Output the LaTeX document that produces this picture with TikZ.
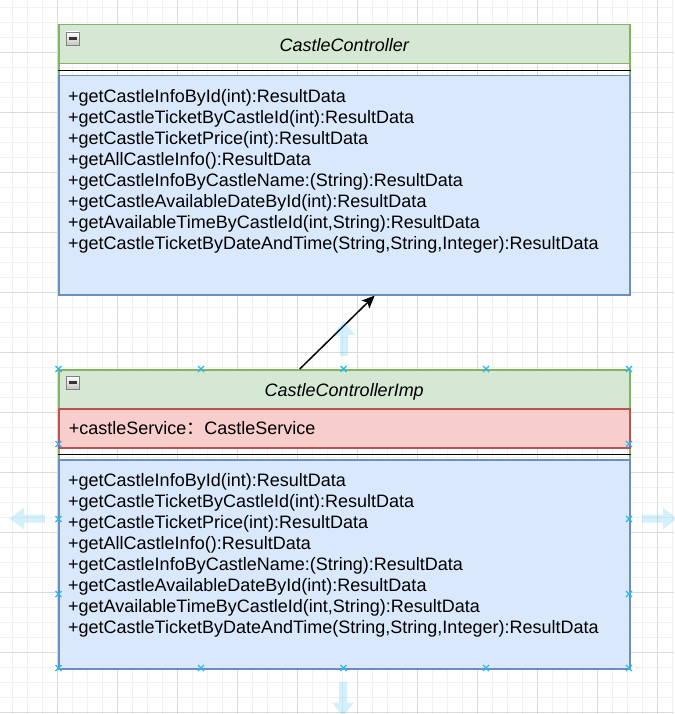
\documentclass[tikz,border=0pt]{standalone}
\usepackage{fontspec}
\setmainfont{Liberation Sans}
\newfontfamily\cjk{Noto Sans CJK SC}
\usetikzlibrary{positioning,arrows.meta}
\definecolor{hdrfill}{HTML}{D5E8D4}
\definecolor{hdrline}{HTML}{82B366}
\definecolor{opsfill}{HTML}{DAE8FC}
\definecolor{opsline}{HTML}{6C8EBF}
\definecolor{attrfill}{HTML}{F8CECC}
\definecolor{attrline}{HTML}{B85450}
\definecolor{selblue}{HTML}{29B6F2}
\definecolor{gridminor}{HTML}{F1F1F1}
\definecolor{gridmajor}{HTML}{DADADA}

\begin{document}
\begin{tikzpicture}[x=1pt,y=-1pt,
    font=\fontsize{18}{21}\selectfont,
    classbox/.style={draw=hdrline, line width=1.5pt, minimum width=571pt, inner sep=0pt, anchor=north west},
    header/.style={classbox, fill=hdrfill, minimum height=39pt, text height=15pt, text depth=0pt, font=\fontsize{18}{21}\selectfont\itshape},
    attrrow/.style={classbox, draw=attrline, fill=attrfill, minimum height=39pt, text width=551pt, inner xsep=10pt, align=left, text height=13pt, text depth=0pt},
    opsbox/.style={classbox, draw=opsline, fill=opsfill},
    opstext/.style={inner sep=0pt, align=left},
    sepline/.style={black, line width=1.5pt},
    toggle/.style={draw=gray, line width=0.8pt, minimum size=13pt, inner sep=0pt, top color=white, bottom color=gray!45},
    connector/.style={-{Stealth[length=13pt,width=11pt,inset=3pt]}, line width=1.5pt},
    selmark/.style={draw=selblue, line width=1.2pt},
    hint/.style={fill=selblue, fill opacity=0.2},
    minorgrid/.style={draw=gridminor, line width=1pt},
    majorgrid/.style={draw=gridmajor, line width=1pt}]
    \useasboundingbox (0,0) rectangle (674,714);
    \fill[white] (0,0) rectangle (674,714);
    \foreach \gx in {12,27,...,672} \draw[minorgrid] (\gx,0) -- (\gx,714);
    \foreach \gy in {7.7,22.7,...,712.7} \draw[minorgrid] (0,\gy) -- (674,\gy);
    \foreach \gx in {57,117,...,657} \draw[majorgrid] (\gx,0) -- (\gx,714);
    \foreach \gy in {52.7,112.7,...,712.7} \draw[majorgrid] (0,\gy) -- (674,\gy);

    \node (ctrlclass) [classbox, minimum height=270pt] at (58,24) {};
    \node (ctrlhead) [header] at (58,24) {CastleController};
    \node (ctrltoggle) [toggle] at (72.5,38.5) {};
    \draw[line width=2.5pt, black!80] ([xshift=-4pt]ctrltoggle.center) -- ([xshift=4pt]ctrltoggle.center);
    \draw[sepline] ([yshift=-6pt]ctrlhead.south west) -- ([yshift=-6pt]ctrlhead.south east);
    \node (ctrlbody) [opsbox, minimum height=219pt] at (58,75) {};
    \node (ctrlops) [opstext, below right=14pt and 10pt of ctrlbody.north west] {+getCastleInfoById(int):ResultData\\
        +getCastleTicketByCastleId(int):ResultData\\
        +getCastleTicketPrice(int):ResultData\\
        +getAllCastleInfo():ResultData\\
        +getCastleInfoByCastleName:(String):ResultData\\
        +getCastleAvailableDateById(int):ResultData\\
        +getAvailableTimeByCastleId(int,String):ResultData\\
        +getCastleTicketByDateAndTime(String,String,Integer):ResultData};

    \node (implclass) [classbox, minimum height=299pt] at (58,369) {};
    \node (implhead) [header] at (58,369) {CastleControllerImp};
    \node (impltoggle) [toggle] at (72.5,382.5) {};
    \draw[line width=2.5pt, black!80] ([xshift=-4pt]impltoggle.center) -- ([xshift=4pt]impltoggle.center);
    \node (implattr) [attrrow] at (58,408) {+castleService{\cjk ：}CastleService};
    \draw[sepline] ([yshift=-6pt]implattr.south west) -- ([yshift=-6pt]implattr.south east);
    \node (implbody) [opsbox, minimum height=209pt] at (58,459) {};
    \node (implops) [opstext, below right=14pt and 10pt of implbody.north west] {+getCastleInfoById(int):ResultData\\
        +getCastleTicketByCastleId(int):ResultData\\
        +getCastleTicketPrice(int):ResultData\\
        +getAllCastleInfo():ResultData\\
        +getCastleInfoByCastleName:(String):ResultData\\
        +getCastleAvailableDateById(int):ResultData\\
        +getAvailableTimeByCastleId(int,String):ResultData\\
        +getCastleTicketByDateAndTime(String,String,Integer):ResultData};

    \draw[connector] ([xshift=-44.5pt]implhead.north) -- ([xshift=30.5pt]ctrlbody.south);

    \foreach \hx/\hy/\ang in {344/338.5/90, 343/699/-90, 27.5/518.5/180, 659.5/518.5/0}
        \fill[hint, shift={(\hx,\hy)}, rotate=\ang] (-17.5,-4) -- (3.5,-4) -- (3.5,-11) -- (17.5,0) -- (3.5,11) -- (3.5,4) -- (-17.5,4) -- cycle;
    \foreach \mx/\my in {58.5/369, 201/369, 343.5/369, 486/369, 629/369, 58.5/668, 201/668, 343.5/668, 486/668, 629/668, 58.5/444, 58.5/519, 58.5/594, 629/444, 629/519, 629/594}
        \draw[selmark] (\mx-3,\my-3) -- (\mx+3,\my+3) (\mx-3,\my+3) -- (\mx+3,\my-3);
\end{tikzpicture}
\end{document}
